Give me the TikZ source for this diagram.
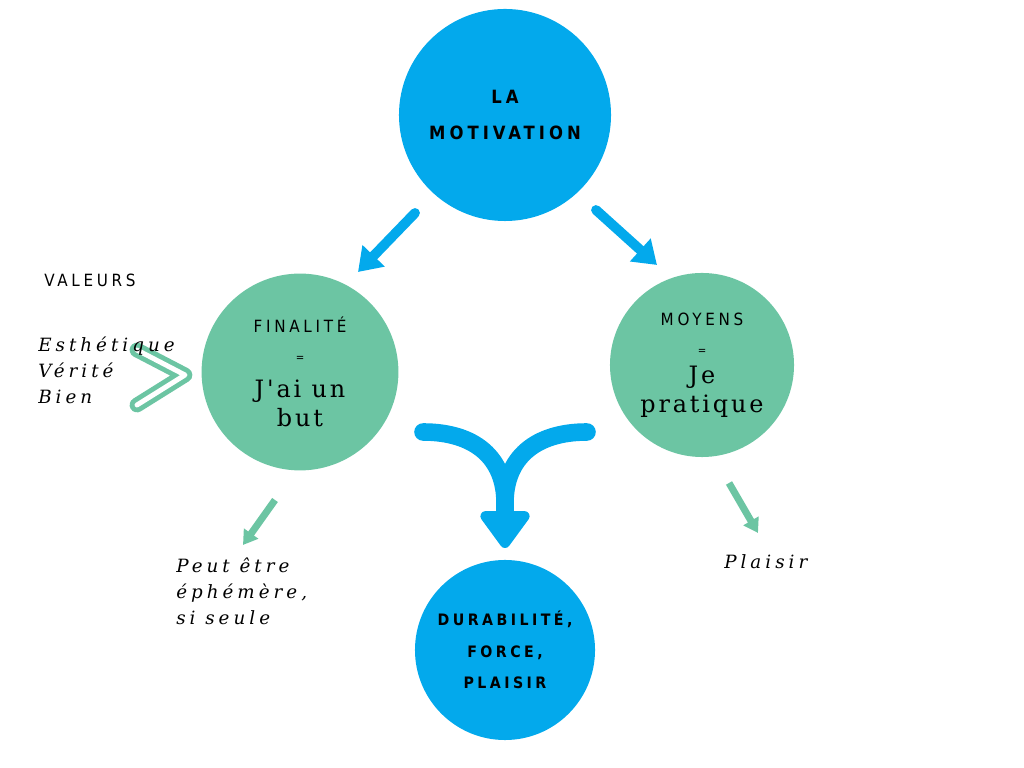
\documentclass[tikz,border=0pt]{standalone}
\usepackage{fontspec}
\setmainfont{DejaVu Serif}
\newfontfamily\capsfont[LetterSpace=22]{DejaVu Sans Condensed}
\newfontfamily\slabfont[LetterSpace=12]{DejaVu Serif}
\newfontfamily\itfont[LetterSpace=22]{DejaVu Serif}
\usetikzlibrary{arrows.meta}
\definecolor{motblue}{RGB}{3,169,236}
\definecolor{motgreen}{RGB}{108,197,163}
\newcommand\bigcaps{\capsfont\bfseries\fontsize{13}{26}\selectfont}
\newcommand\midcaps{\capsfont\bfseries\fontsize{11.2}{22}\selectfont}
\newcommand\headcaps{\capsfont\fontsize{12}{20}\selectfont}
\newcommand\eqsign{\capsfont\fontsize{8}{15}\selectfont}
\newcommand\slab{\slabfont\fontsize{17}{21}\selectfont}

\begin{document}
\begin{tikzpicture}[x=0.025cm, y=0.025cm,
    bubble/.style={circle, inner sep=0pt, align=center, text=black},
    bluearrow/.style={motblue, line width=7pt, line cap=round, -{Triangle[width=21pt,length=16pt]}},
    greenarrow/.style={motgreen, line width=5pt, -{Triangle[width=12pt,length=10pt]}},
    fork/.style={motblue, line width=12.5pt, line cap=round},
    sidetext/.style={anchor=north west, align=left, inner sep=0pt, font=\itfont\itshape\fontsize{13}{18.5}\selectfont}]
    \useasboundingbox (0,0) rectangle (1024,768);

    % Circles
    \node[bubble, fill=motblue, minimum size=5.3cm, font=\fontsize{13}{26}\selectfont] (top) at (505,653)
        {\bigcaps LA\\ \bigcaps MOTIVATION};
    \node[bubble, fill=motgreen, minimum size=4.92cm, font=\fontsize{12}{20.5}\selectfont] (fin) at (300,396)
        {\headcaps FINALITÉ\\ \eqsign =\\[5pt] \slab J'ai un\\ \slab but};
    \node[bubble, fill=motgreen, minimum size=4.6cm, font=\fontsize{12}{20.5}\selectfont] (moy) at (702,403)
        {\headcaps MOYENS\\ \eqsign =\\ \slab Je\\ \slab pratique};
    \node[bubble, fill=motblue, minimum size=4.5cm, font=\fontsize{11}{22.3}\selectfont] (dur) at (505,118)
        {\midcaps DURABILITÉ,\\ \midcaps FORCE,\\ \midcaps PLAISIR};

    % Arrows from the top
    \coordinate (tl) at (415,555);
    \coordinate (fl) at (358,496);
    \coordinate (tr) at (596,558);
    \coordinate (mr) at (657,503);
    \draw[bluearrow] (tl) -- (fl);
    \draw[bluearrow] (tr) -- (mr);

    % Fork into durability
    \coordinate (fs) at (423,336);
    \coordinate (ms) at (587,336);
    \coordinate (ds) at (505,220);
    \draw[fork] (ms) .. controls (535,336) and (505,310) .. (505,265) -- (505,250);
    \draw[fork, -{Triangle[width=40pt,length=29pt,round]}] (fs) .. controls (475,336) and (505,310) .. (505,265) -- (ds);

    % Values
    \node[anchor=west, inner sep=0pt, font=\capsfont\fontsize{12}{14}\selectfont] (val) at (44,488) {VALEURS};
    \draw[motgreen, line width=3.5pt, double=white, double distance=3.5pt, line cap=round, line join=round]
        (137,418) -- (185,393) -- (137,363);
    \node[sidetext] (vtx) at (38,431) {Esthétique\\ Vérité\\ Bien};

    % Side notes
    \coordinate (fa) at (275,268);
    \coordinate (fb) at (243,223);
    \coordinate (ma) at (729,285);
    \coordinate (mb) at (758,235);
    \draw[greenarrow] (fa) -- (fb);
    \draw[greenarrow] (ma) -- (mb);
    \node[sidetext] (eph) at (176,210) {Peut être\\ éphémère,\\ si seule};
    \node[sidetext] (pla) at (724,214) {Plaisir};
\end{tikzpicture}
\end{document}
